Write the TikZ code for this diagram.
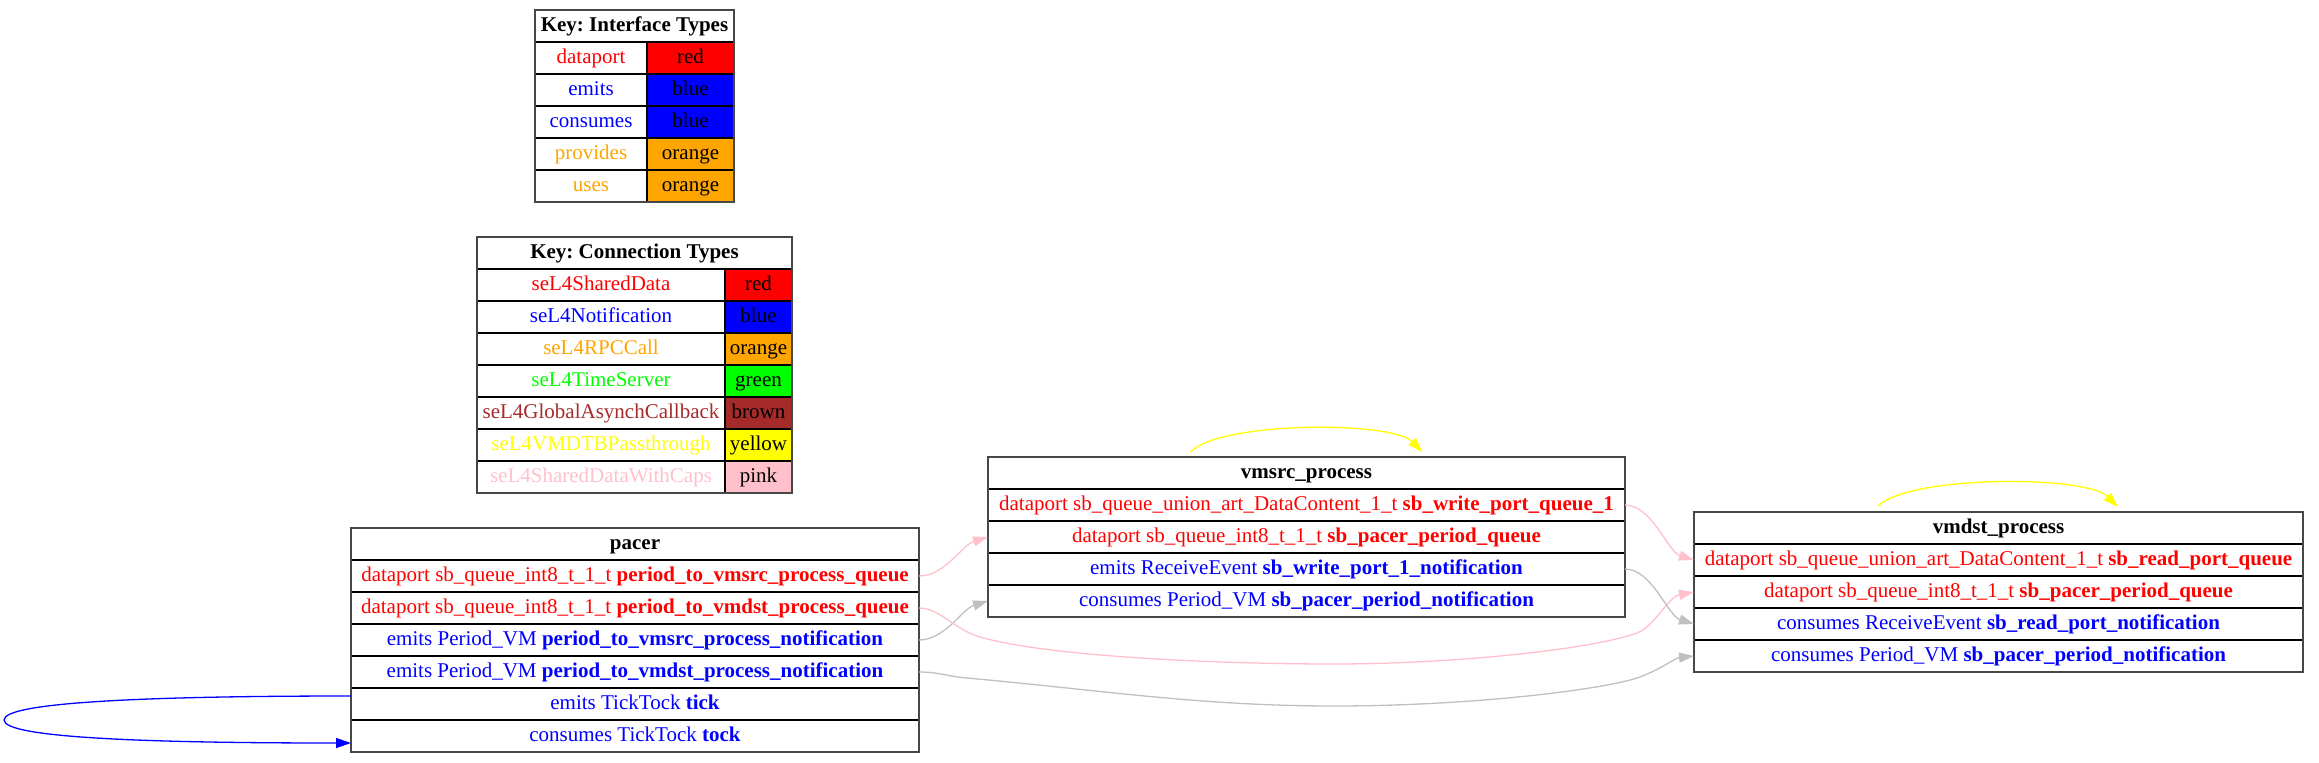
\documentclass[tikz,border=0pt]{standalone}
\usepackage{fontspec}
\setmainfont{Liberation Serif}
\usetikzlibrary{arrows.meta}
\definecolor{cpink}{HTML}{FFC0CB}
\definecolor{corange}{HTML}{FFA500}
\definecolor{cbrown}{HTML}{A52A2A}
\definecolor{cgreen}{HTML}{00FF00}
\definecolor{cyellow}{HTML}{FFFF00}
\definecolor{cgray}{HTML}{C0C0C0}
\definecolor{cred}{HTML}{FF0000}
\definecolor{cblue}{HTML}{0000FF}
\newcommand\fsz{\fontsize{21pt}{25pt}\selectfont\frenchspacing}
\begin{document}
\frenchspacing
\begin{tikzpicture}[x=1pt,y=-1pt,
  cell/.style={draw=black, line width=2pt, inner sep=0pt, outer sep=0pt,
    minimum height=32pt, text height=15pt, text depth=5pt, font=\fsz, text=black},
  hdr/.style={cell, font=\fsz\bfseries},
  frame/.style={draw=black!72, line width=2pt},
  conn/.style={line width=1.3pt, -{Triangle[length=15pt,width=10pt]}},
]
\useasboundingbox (0,0) rectangle (2319,763);

% ---------- Key: Interface Types ----------
\node[hdr, minimum width=199pt] (k1h) at (634.5,26) {Key: Interface Types};
\node[cell, minimum width=112pt, text=cred]   (k1a) at (591,58)  {dataport};
\node[cell, minimum width=87pt,  fill=cred]   (k1ac) at (690.5,58) {red};
\node[cell, minimum width=112pt, text=cblue]  (k1b) at (591,90)  {emits};
\node[cell, minimum width=87pt,  fill=cblue]  (k1bc) at (690.5,90) {blue};
\node[cell, minimum width=112pt, text=cblue]  (k1c) at (591,122) {consumes};
\node[cell, minimum width=87pt,  fill=cblue]  (k1cc) at (690.5,122) {blue};
\node[cell, minimum width=112pt, text=corange] (k1d) at (591,154) {provides};
\node[cell, minimum width=87pt,  fill=corange] (k1dc) at (690.5,154) {orange};
\node[cell, minimum width=112pt, text=corange] (k1e) at (591,186) {uses};
\node[cell, minimum width=87pt,  fill=corange] (k1ec) at (690.5,186) {orange};
\draw[frame] (k1h.north west) rectangle (k1ec.south east);

% ---------- Key: Connection Types ----------
\node[hdr, minimum width=315pt] (k2h) at (634.5,253) {Key: Connection Types};
\node[cell, minimum width=248pt, text=cred]    (k2a) at (601,285) {seL4SharedData};
\node[cell, minimum width=67pt,  fill=cred]    (k2ac) at (758.5,285) {red};
\node[cell, minimum width=248pt, text=cblue]   (k2b) at (601,317) {seL4Notification};
\node[cell, minimum width=67pt,  fill=cblue]   (k2bc) at (758.5,317) {blue};
\node[cell, minimum width=248pt, text=corange] (k2c) at (601,349) {seL4RPCCall};
\node[cell, minimum width=67pt,  fill=corange] (k2cc) at (758.5,349) {orange};
\node[cell, minimum width=248pt, text=cgreen]  (k2d) at (601,381) {seL4TimeServer};
\node[cell, minimum width=67pt,  fill=cgreen]  (k2dc) at (758.5,381) {green};
\node[cell, minimum width=248pt, text=cbrown]  (k2e) at (601,413) {seL4GlobalAsynchCallback};
\node[cell, minimum width=67pt,  fill=cbrown]  (k2ec) at (758.5,413) {brown};
\node[cell, minimum width=248pt, text=cyellow] (k2f) at (601,445) {seL4VMDTBPassthrough};
\node[cell, minimum width=67pt,  fill=cyellow] (k2fc) at (758.5,445) {yellow};
\node[cell, minimum width=248pt, text=cpink]   (k2g) at (601,477) {seL4SharedDataWithCaps};
\node[cell, minimum width=67pt,  fill=cpink]   (k2gc) at (758.5,477) {pink};
\draw[frame] (k2h.north west) rectangle (k2gc.south east);

% ---------- pacer ----------
\node[hdr, minimum width=568pt] (p0) at (635,544) {pacer};
\node[cell, minimum width=568pt, text=cred]  (p1) at (635,576) {dataport sb\_queue\_int8\_t\_1\_t \textbf{period\_to\_vmsrc\_process\_queue}};
\node[cell, minimum width=568pt, text=cred]  (p2) at (635,608) {dataport sb\_queue\_int8\_t\_1\_t \textbf{period\_to\_vmdst\_process\_queue}};
\node[cell, minimum width=568pt, text=cblue] (p3) at (635,640) {emits Period\_VM \textbf{period\_to\_vmsrc\_process\_notification}};
\node[cell, minimum width=568pt, text=cblue] (p4) at (635,672) {emits Period\_VM \textbf{period\_to\_vmdst\_process\_notification}};
\node[cell, minimum width=568pt, text=cblue] (p5) at (635,704) {emits TickTock \textbf{tick}};
\node[cell, minimum width=568pt, text=cblue] (p6) at (635,736) {consumes TickTock \textbf{tock}};
\draw[frame] (p0.north west) rectangle (p6.south east);

% ---------- vmsrc_process ----------
\node[hdr, minimum width=637pt] (s0) at (1306.5,473) {vmsrc\_process};
\node[cell, minimum width=637pt, text=cred]  (s1) at (1306.5,505) {dataport sb\_queue\_union\_art\_DataContent\_1\_t \textbf{sb\_write\_port\_queue\_1}};
\node[cell, minimum width=637pt, text=cred]  (s2) at (1306.5,537) {dataport sb\_queue\_int8\_t\_1\_t \textbf{sb\_pacer\_period\_queue}};
\node[cell, minimum width=637pt, text=cblue] (s3) at (1306.5,569) {emits ReceiveEvent \textbf{sb\_write\_port\_1\_notification}};
\node[cell, minimum width=637pt, text=cblue] (s4) at (1306.5,601) {consumes Period\_VM \textbf{sb\_pacer\_period\_notification}};
\draw[frame] (s0.north west) rectangle (s4.south east);

% ---------- vmdst_process ----------
\node[hdr, minimum width=609pt] (d0) at (1998.5,528) {vmdst\_process};
\node[cell, minimum width=609pt, text=cred]  (d1) at (1998.5,560) {dataport sb\_queue\_union\_art\_DataContent\_1\_t \textbf{sb\_read\_port\_queue}};
\node[cell, minimum width=609pt, text=cred]  (d2) at (1998.5,592) {dataport sb\_queue\_int8\_t\_1\_t \textbf{sb\_pacer\_period\_queue}};
\node[cell, minimum width=609pt, text=cblue] (d3) at (1998.5,624) {consumes ReceiveEvent \textbf{sb\_read\_port\_notification}};
\node[cell, minimum width=609pt, text=cblue] (d4) at (1998.5,656) {consumes Period\_VM \textbf{sb\_pacer\_period\_notification}};
\draw[frame] (d0.north west) rectangle (d4.south east);

% ---------- connectors ----------
\coordinate (tickout) at ([yshift=8pt]p5.west);
\coordinate (tockin) at ([yshift=-7pt]p6.west);
\draw[conn, cblue] (tickout) .. controls (150,696) and (4,702) .. (4,720)
   .. controls (4,738) and (150,743) .. (tockin);

\draw[conn, cpink] (p1.east) .. controls (945,576) and (962,545) .. (s2.west);
\draw[conn, cgray] (p3.east) .. controls (945,640) and (962,609) .. (s4.west);

\draw[conn, cpink] (p2.east) .. controls (940,608) and (955,630) .. (980,637)
   .. controls (1050,657) and (1220,664) .. (1334,664)
   .. controls (1450,664) and (1590,650) .. (1637,633)
   .. controls (1655,626) and (1668,597) .. (d2.west);

\draw[conn, cgray] (p4.east) .. controls (940,672) and (950,677) .. (967,678)
   .. controls (1100,690) and (1200,706) .. (1334,706)
   .. controls (1470,706) and (1600,690) .. (1637,678)
   .. controls (1660,670) and (1675,658) .. (d4.west);

\draw[conn, cpink] (s1.east) .. controls (1652,505) and (1668,552) .. (d1.west);
\draw[conn, cgray] (s3.east) .. controls (1652,569) and (1668,616) .. (d3.west);

\coordinate (sloopa) at ([xshift=-116pt,yshift=5pt]s0.north);
\coordinate (sloopb) at ([xshift=116pt,yshift=5pt]s0.north);
\draw[conn, cyellow] (sloopa) .. controls (1220,421) and (1392,421) .. (sloopb);

\coordinate (dloopa) at ([xshift=-120.5pt,yshift=6pt]d0.north);
\coordinate (dloopb) at ([xshift=119.5pt,yshift=5pt]d0.north);
\draw[conn, cyellow] (dloopa) .. controls (1910,475) and (2086,475) .. (dloopb);
\end{tikzpicture}
\end{document}
